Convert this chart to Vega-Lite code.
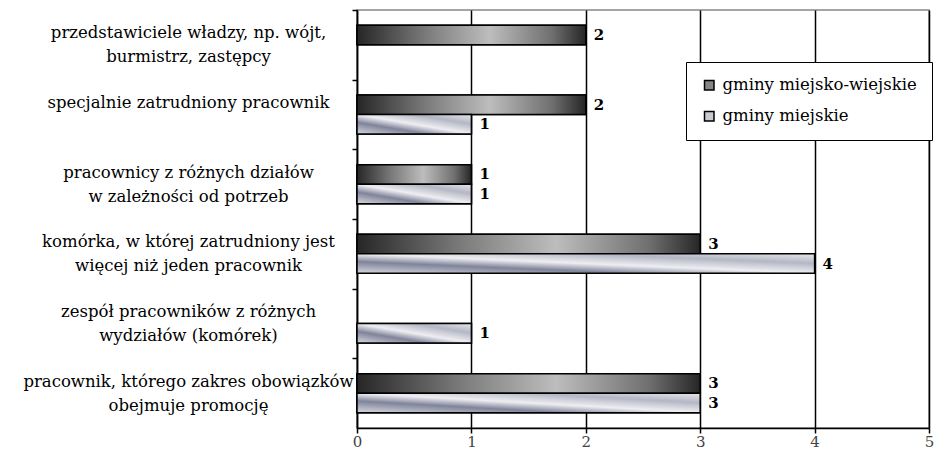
{
  "$schema": "https://vega.github.io/schema/vega-lite/v6.json",
  "autosize": {"type": "none"},
  "width": 572,
  "height": 418,
  "padding": {"left": 357, "top": 10, "right": 5, "bottom": 25},
  "background": "white",
  "config": {
    "view": {"stroke": "#888888", "strokeWidth": 1.5},
    "font": "DejaVu Serif"
  },
  "data": {
    "values": [
      {"kategoria": "przedstawiciele władzy, np. wójt,|burmistrz, zastępcy", "seria": "gminy miejsko-wiejskie", "wartosc": 2},
      {"kategoria": "specjalnie zatrudniony pracownik", "seria": "gminy miejsko-wiejskie", "wartosc": 2},
      {"kategoria": "specjalnie zatrudniony pracownik", "seria": "gminy miejskie", "wartosc": 1},
      {"kategoria": "pracownicy z różnych działów|w zależności od potrzeb", "seria": "gminy miejsko-wiejskie", "wartosc": 1},
      {"kategoria": "pracownicy z różnych działów|w zależności od potrzeb", "seria": "gminy miejskie", "wartosc": 1},
      {"kategoria": "komórka, w której zatrudniony jest|więcej niż jeden pracownik", "seria": "gminy miejsko-wiejskie", "wartosc": 3},
      {"kategoria": "komórka, w której zatrudniony jest|więcej niż jeden pracownik", "seria": "gminy miejskie", "wartosc": 4},
      {"kategoria": "zespół pracowników z różnych|wydziałów (komórek)", "seria": "gminy miejskie", "wartosc": 1},
      {"kategoria": "pracownik, którego zakres obowiązków|obejmuje promocję", "seria": "gminy miejsko-wiejskie", "wartosc": 3},
      {"kategoria": "pracownik, którego zakres obowiązków|obejmuje promocję", "seria": "gminy miejskie", "wartosc": 3}
    ]
  },
  "encoding": {
    "y": {
      "field": "kategoria", "type": "nominal", "sort": null, "title": null,
      "scale": {"paddingInner": 0.44, "paddingOuter": 0.22},
      "axis": {
        "labelExpr": "split(datum.label, '|')",
        "labelAlign": "center",
        "labelBaseline": "middle",
        "labelPadding": 164,
        "labelLimit": 400,
        "labelFont": "DejaVu Serif",
        "labelFontSize": 16.5,
        "labelLineHeight": 24,
        "tickOffset": -34.83,
        "labelOffset": 22.83,
        "labelColor": "#000000",
        "domainColor": "#000000",
        "domainWidth": 1.5,
        "tickColor": "#000000",
        "tickWidth": 1.5,
        "tickSize": 5,
        "grid": false
      }
    },
    "yOffset": {"field": "seria", "type": "nominal", "scale": {"domain": ["gminy miejsko-wiejskie", "gminy miejskie"], "paddingInner": 0, "paddingOuter": 0}},
    "x": {
      "field": "wartosc", "type": "quantitative", "title": null,
      "scale": {"domain": [0, 5], "nice": false},
      "axis": {
        "values": [0, 1, 2, 3, 4, 5],
        "format": "d",
        "grid": true,
        "gridColor": "#000000",
        "gridWidth": 1.5,
        "gridOpacity": 1,
        "domainColor": "#000000",
        "domainWidth": 1.5,
        "tickColor": "#000000",
        "tickWidth": 1.5,
        "tickSize": 5,
        "labelFont": "DejaVu Serif",
        "labelFontSize": 15,
        "labelColor": "#444444",
        "labelPadding": 1,
        "labelFlush": false
      }
    }
  },
  "layer": [
    {
      "mark": {"type": "bar", "stroke": "#000000", "strokeWidth": 1.5},
      "encoding": {
        "color": {
          "field": "seria", "type": "nominal",
          "scale": {"domain": ["gminy miejsko-wiejskie", "gminy miejskie"], "range": ["#858585", "#c8cad2"]},
          "legend": {
            "title": null,
            "orient": "none",
            "legendX": 329,
            "legendY": 52,
            "direction": "vertical",
            "strokeColor": "#000000",
            "fillColor": "white",
            "padding": 15,
            "rowPadding": 14,
            "symbolType": "square",
            "symbolSize": 90,
            "symbolStrokeColor": "#000000",
            "symbolStrokeWidth": 1.5,
            "symbolOpacity": 1,
            "labelFont": "DejaVu Serif",
            "labelFontSize": 16.5,
            "labelColor": "#000000",
            "labelOffset": 5,
            "labelLimit": 400
          }
        }
      }
    },
    {
      "transform": [{"filter": "datum.seria == 'gminy miejsko-wiejskie'"}],
      "mark": {
        "type": "bar", "stroke": "#000000", "strokeWidth": 1.5,
        "fill": {"gradient": "linear", "x1": 0, "y1": 0, "x2": 1, "y2": 0,
          "stops": [
            {"offset": 0, "color": "#262626"},
            {"offset": 0.3, "color": "#7a7a7a"},
            {"offset": 0.58, "color": "#bdbdbd"},
            {"offset": 0.85, "color": "#707070"},
            {"offset": 1, "color": "#262626"}
          ]}
      }
    },
    {
      "transform": [{"filter": "datum.seria == 'gminy miejskie'"}],
      "mark": {
        "type": "bar", "stroke": "#000000", "strokeWidth": 1.5,
        "fill": {"gradient": "linear", "x1": 0, "y1": 1, "x2": 1, "y2": 0,
          "stops": [
            {"offset": 0, "color": "#d6d7de"},
            {"offset": 0.3, "color": "#80849a"},
            {"offset": 0.5, "color": "#eeeef2"},
            {"offset": 0.75, "color": "#b4b7c4"},
            {"offset": 1, "color": "#e6e6ec"}
          ]}
      }
    },
    {
      "mark": {"type": "text", "align": "left", "baseline": "middle", "dx": 8, "font": "DejaVu Serif", "fontWeight": "bold", "fontSize": 15, "color": "#000000"},
      "encoding": {"text": {"field": "wartosc", "type": "quantitative"}}
    }
  ]
}
